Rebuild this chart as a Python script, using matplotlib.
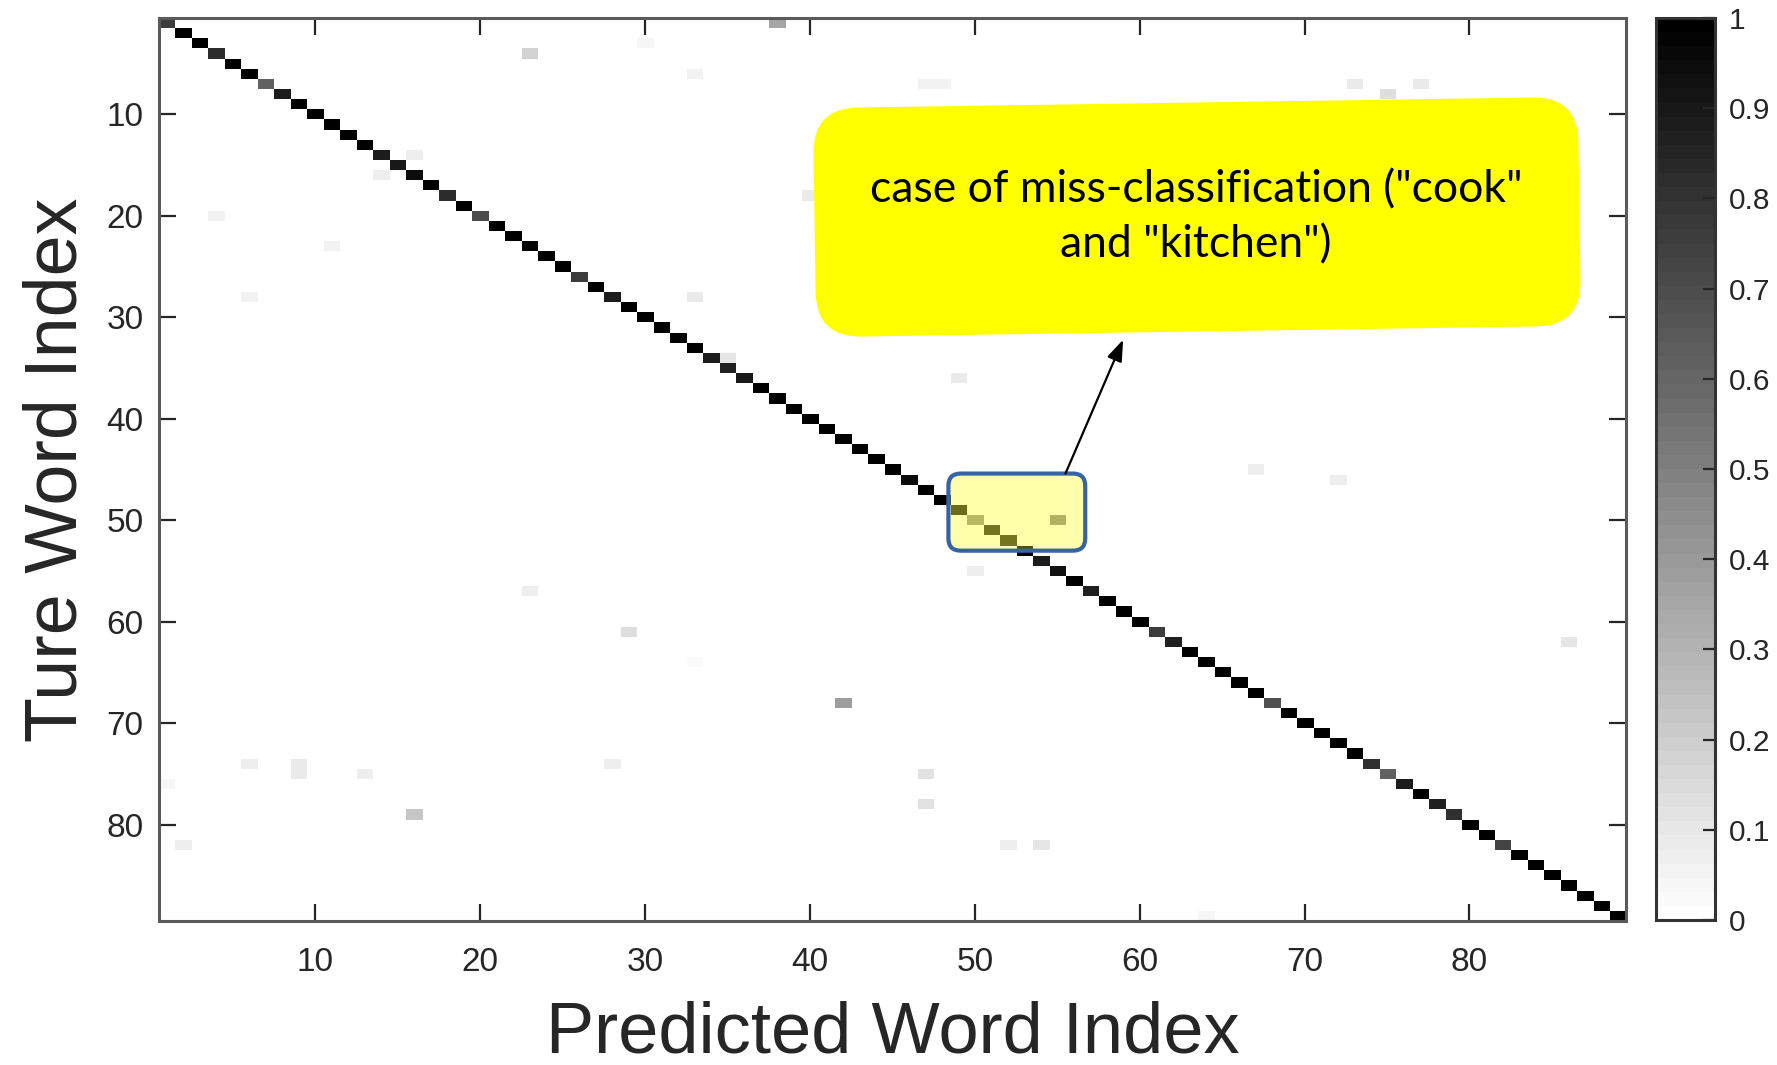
import numpy as np
import matplotlib
matplotlib.use("Agg")
import matplotlib.pyplot as plt
from matplotlib.patches import FancyBboxPatch
import matplotlib.transforms as mtransforms
from matplotlib.ticker import FormatStrFormatter

# ---------------- data ----------------
N = 89
diag_vals = [0.75, 1.0, 1.0, 0.82, 1.0, 1.0, 0.62, 0.88, 1.0, 1.0,
             1.0, 1.0, 1.0, 0.88, 0.9, 0.95, 1.0, 0.82, 1.0, 0.7,
             1.0, 1.0, 0.97, 1.0, 1.0, 0.75, 1.0, 0.88, 1.0, 1.0,
             1.0, 1.0, 1.0, 0.88, 0.87, 0.9, 1.0, 1.0, 1.0, 1.0,
             1.0, 1.0, 1.0, 1.0, 1.0, 0.95, 1.0, 1.0, 0.85, 0.4,
             0.8, 0.8, 1.0, 0.88, 0.93, 1.0, 0.87, 1.0, 1.0, 1.0,
             0.75, 0.87, 1.0, 1.0, 1.0, 1.0, 1.0, 0.68, 1.0, 1.0,
             1.0, 1.0, 1.0, 0.8, 0.62, 0.88, 1.0, 0.87, 0.8, 1.0,
             1.0, 0.73, 1.0, 1.0, 1.0, 1.0, 1.0, 1.0, 1.0]

off_rows = [1, 3, 4, 6, 7, 7, 7, 8, 7, 14, 16, 18, 20, 23, 28, 28, 34, 36,
            45, 46, 50, 55, 57, 61, 64, 68, 62, 74, 74, 75, 75, 74, 76, 75,
            78, 79, 82, 82, 82, 89]
off_cols = [38, 30, 23, 33, 47, 48, 73, 75, 77, 16, 14, 40, 4, 11, 6, 33, 35, 49,
            67, 72, 55, 50, 23, 29, 33, 42, 86, 6, 9, 9, 13, 28, 1, 47,
            47, 16, 2, 52, 54, 64]
off_vals = [0.35, 0.04, 0.18, 0.06, 0.05, 0.05, 0.08, 0.13, 0.08, 0.07, 0.07, 0.08,
            0.06, 0.06, 0.06, 0.08, 0.10, 0.08, 0.07, 0.07, 0.45, 0.07, 0.07,
            0.13, 0.03, 0.38, 0.10, 0.07, 0.08, 0.08, 0.07, 0.07, 0.04, 0.12,
            0.12, 0.22, 0.07, 0.07, 0.10, 0.04]

xticks = [10, 20, 30, 40, 50, 60, 70, 80]
yticks = [10, 20, 30, 40, 50, 60, 70, 80]
cbar_ticks = [0, 0.1, 0.2, 0.3, 0.4, 0.5, 0.6, 0.7, 0.8, 0.9, 1.0]

xlabel = "Predicted Word Index"
ylabel = "Ture Word Index"
note = 'case of miss-classification ("cook"\nand "kitchen")'

# highlight region (data coords) and arrow
hl_x0, hl_x1, hl_y0, hl_y1 = 48.4, 56.7, 45.4, 53.0
arrow_from = (55.5, 45.4)
arrow_to = (59.0, 32.2)

# ---------------- build matrix ----------------
M = np.zeros((N, N))
M[np.arange(N), np.arange(N)] = diag_vals
for r, c, v in zip(off_rows, off_cols, off_vals):
    M[r - 1, c - 1] = v

W, H = 1777, 1065
plt.rcParams["font.family"] = ["Liberation Sans", "DejaVu Sans"]
fig = plt.figure(figsize=(W / 100, H / 100), dpi=100)
fig.patch.set_facecolor("white")

L, R, T, B = 158.7, 1626, 18, 921
ax = fig.add_axes([L / W, (H - B) / H, (R - L) / W, (B - T) / H])
cmap = plt.get_cmap("gray_r", 64)
im = ax.imshow(M, cmap=cmap, vmin=0, vmax=1, interpolation="nearest",
               aspect="auto", extent=(0.5, N + 0.5, N + 0.5, 0.5))
ax.set_xlim(0.5, N + 0.5)
ax.set_ylim(N + 0.5, 0.5)
ax.set_xticks(xticks)
ax.set_yticks(yticks)
tc = "#262626"
ax.tick_params(direction="in", length=12, width=1.6, top=True, right=True,
               color=tc, labelcolor=tc, labelsize=24)
ax.tick_params(axis="x", pad=19)
ax.tick_params(axis="y", pad=11)
for s in ax.spines.values():
    s.set_color("#5a5a5a")
    s.set_linewidth(2.2)
ax.set_xlabel(xlabel, fontsize=52, color=tc, labelpad=16)
ax.set_ylabel(ylabel, fontsize=53, color=tc, labelpad=11)

# colorbar
cax = fig.add_axes([1656 / W, (H - 920) / H, (1715 - 1656) / W, (920 - 18) / H])
cb = fig.colorbar(im, cax=cax, ticks=cbar_ticks)
cb.ax.yaxis.set_major_formatter(FormatStrFormatter("%g"))
cb.ax.tick_params(direction="in", length=9, width=1.6, color=tc,
                  labelcolor=tc, labelsize=21.5, pad=10)
cb.outline.set_edgecolor("#333333")
cb.outline.set_linewidth(2.2)

# highlight box
hl = FancyBboxPatch((hl_x0, hl_y0), hl_x1 - hl_x0, hl_y1 - hl_y0,
                    boxstyle="round,pad=0,rounding_size=0.75",
                    mutation_aspect=16.47 / 10.15,
                    facecolor=(1, 1, 0, 0.33), edgecolor="#3563A5",
                    linewidth=3.0, zorder=5)
ax.add_patch(hl)

ax.annotate("", xy=arrow_to, xytext=arrow_from,
            arrowprops=dict(arrowstyle="-|>,head_length=0.5,head_width=0.18",
                            color="black", lw=1.6,
                            mutation_scale=26, shrinkA=0, shrinkB=0),
            zorder=6, annotation_clip=False)

# callout box (pixel-based placement in figure)
cx, cy = 1197, H - 217
bw, bh = 765, 229
tr = (mtransforms.Affine2D().rotate_deg_around(cx, cy, 0.85)
      .scale(1 / W, 1 / H) + fig.transFigure)
callout = FancyBboxPatch((cx - bw / 2, cy - bh / 2), bw, bh,
                         boxstyle="round,pad=0,rounding_size=45",
                         facecolor="#FFFF00", edgecolor="none",
                         transform=tr, zorder=3)
fig.add_artist(callout)
fig.text(1196 / W, 1 - 217 / H, note, ha="center", va="center",
         fontsize=32, family=["Lato", "DejaVu Sans"], color="black",
         linespacing=1.42, zorder=4)

fig.savefig("out.png", dpi=100)
